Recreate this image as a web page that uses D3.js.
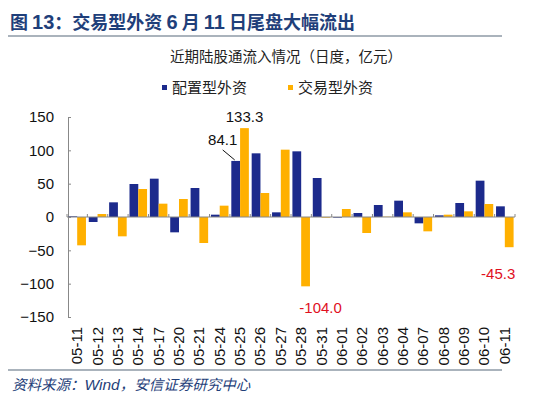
<!DOCTYPE html>
<html><head><meta charset="utf-8">
<script src="https://cdn.jsdelivr.net/npm/d3@7/dist/d3.min.js"></script>
<style>
body{margin:0;background:#fff;}
svg{display:block;}
</style></head>
<body><svg id="c" width="550" height="396"></svg>
<script>
const categories = ["05-11","05-12","05-13","05-14","05-17","05-20","05-21","05-24","05-25","05-26","05-27","05-28","05-31","06-01","06-02","06-03","06-04","06-07","06-08","06-09","06-10","06-11"];
const allocation = [1,-7.5,22,49.5,57.5,-23,43.5,3.5,84.1,95.5,7,98.5,58.5,-1,6,18,24.5,-9.5,2.5,21,54.5,16];
const trading = [-42.5,4.5,-29,42,20,27,-39,17,133.3,36,101,-104.0,-1,12,-24,0.5,7,-21.5,3.5,8.5,19.5,-45.3];
const seriesNames = ["配置型外资","交易型外资"];
const yTicks = [-150,-100,-50,0,50,100,150];
const labelled = [{series:1, cat:"05-25", text:"133.3"},{series:0, cat:"05-25", text:"84.1"},{series:1, cat:"05-28", text:"-104.0"},{series:1, cat:"06-11", text:"-45.3"}];

const colors = ["#1c2a8c","#ffb000"];
const svg = d3.select("#c");
const fontLat = "Liberation Sans, Arial, sans-serif";
const fontCJK = "'Noto Sans CJK SC', sans-serif";

// title
const t = svg.append("text").attr("x",10).attr("y",29).attr("fill","#1f3f7a")
  .style("font-family",fontCJK).style("font-size","18px").style("font-weight","bold");
t.append("tspan").text("图 ");
t.append("tspan").style("font-family",fontLat).style("font-size","20px").text("13");
t.append("tspan").text("：交易型外资 ");
t.append("tspan").style("font-family",fontLat).style("font-size","20px").text("6");
t.append("tspan").text(" 月 ");
t.append("tspan").style("font-family",fontLat).style("font-size","20px").text("11");
t.append("tspan").text(" 日尾盘大幅流出");
svg.append("line").attr("x1",8).attr("x2",502).attr("y1",36).attr("y2",36).attr("stroke","#8e9aa6").attr("stroke-width",1.5);

svg.append("text").attr("x",286).attr("y",62).attr("text-anchor","middle").attr("fill","#222")
  .style("font-family",fontCJK).style("font-size","14.5px").text("近期陆股通流入情况（日度，亿元）");

// legend
const lg = [{x:162},{x:288}];
lg.forEach((l,i)=>{
  svg.append("rect").attr("x",l.x).attr("y",85).attr("width",5).attr("height",5).attr("fill",colors[i]);
  svg.append("text").attr("x",l.x+10).attr("y",93).attr("fill","#222")
    .style("font-family",fontCJK).style("font-size","15px").text(seriesNames[i]);
});

const x = d3.scaleBand().domain(categories).range([67,515]).paddingInner(0).paddingOuter(0);
const xs = d3.scaleBand().domain([0,1]).range([0,x.bandwidth()]).paddingInner(0).paddingOuter(0.16);
const y = d3.scaleLinear().domain([-150,150]).range([317,117]);

// y axis
const ya = svg.append("g").attr("transform","translate(68,0)")
  .call(d3.axisLeft(y).tickValues(yTicks).tickSize(-3).tickPadding(14).tickFormat(d3.format("d")));
ya.select(".domain").attr("stroke","#888");
ya.selectAll(".tick line").attr("stroke","#888");
ya.selectAll("text").style("font-family",fontLat).style("font-size","15px").attr("fill","#111");

// bars
[allocation, trading].forEach((vals,si)=>{
  svg.append("g").selectAll("rect").data(vals).join("rect")
    .attr("x",(d,i)=>x(categories[i])+xs(si))
    .attr("width",xs.bandwidth())
    .attr("y",d=>y(Math.max(0,d)))
    .attr("height",d=>Math.abs(y(d)-y(0)))
    .attr("fill",colors[si]);
});

// x axis line at zero with ticks between categories
const xg = svg.append("g");
xg.append("line").attr("x1",67).attr("x2",515).attr("y1",y(0)).attr("y2",y(0)).attr("stroke","#888");
xg.selectAll("line.tk").data(d3.range(categories.length+1)).join("line").attr("class","tk")
  .attr("x1",i=>67+i*x.step()).attr("x2",i=>67+i*x.step())
  .attr("y1",y(0)).attr("y2",y(0)-3).attr("stroke","#888");

// x labels rotated
svg.append("g").selectAll("text").data(categories).join("text")
  .attr("transform",d=>`translate(${x(d)+x.bandwidth()/2+5},327) rotate(-90)`)
  .attr("text-anchor","end").attr("fill","#111")
  .style("font-family",fontLat).style("font-size","15px").text(d=>d);

// data labels
const valOf = (s,c)=> (s===0?allocation:trading)[categories.indexOf(c)];
const posLab = {
  "133.3": {dx:0, dy:-6, color:"#111"},
  "84.1": {dx:-13, dy:-16, color:"#111"},
  "-104.0": {dx:15, dy:16, color:"#e0101e"},
  "-45.3": {dx:-11, dy:21, color:"#e0101e"}
};
labelled.forEach(l=>{
  const v = valOf(l.series,l.cat);
  const cx = x(l.cat)+xs(l.series)+xs.bandwidth()/2;
  const p = posLab[l.text];
  const yy = y(v);
  const base = v>=0 ? yy+p.dy : yy+p.dy+11;
  svg.append("text").attr("x",cx+p.dx).attr("y",base).attr("text-anchor","middle").attr("fill",p.color)
    .style("font-family",fontLat).style("font-size","15px").text(l.text);
  if(l.text==="84.1"){
    svg.append("line").attr("x1",cx-13).attr("y1",yy-11).attr("x2",cx-1).attr("y2",yy-1)
      .attr("stroke","#111").attr("stroke-width",1);
  }
});

// bottom line and source
svg.append("line").attr("x1",8).attr("x2",502).attr("y1",370).attr("y2",370).attr("stroke","#8e9aa6").attr("stroke-width",1.5);
const s = svg.append("text").attr("x",12).attr("y",390).attr("fill","#1f3f7a")
  .style("font-family",fontCJK).style("font-size","14.5px").style("font-style","italic");
s.append("tspan").text("资料来源：");
s.append("tspan").style("font-family",fontLat).style("font-size","15.5px").text("Wind");
s.append("tspan").text("，安信证券研究中心");
</script></body></html>
